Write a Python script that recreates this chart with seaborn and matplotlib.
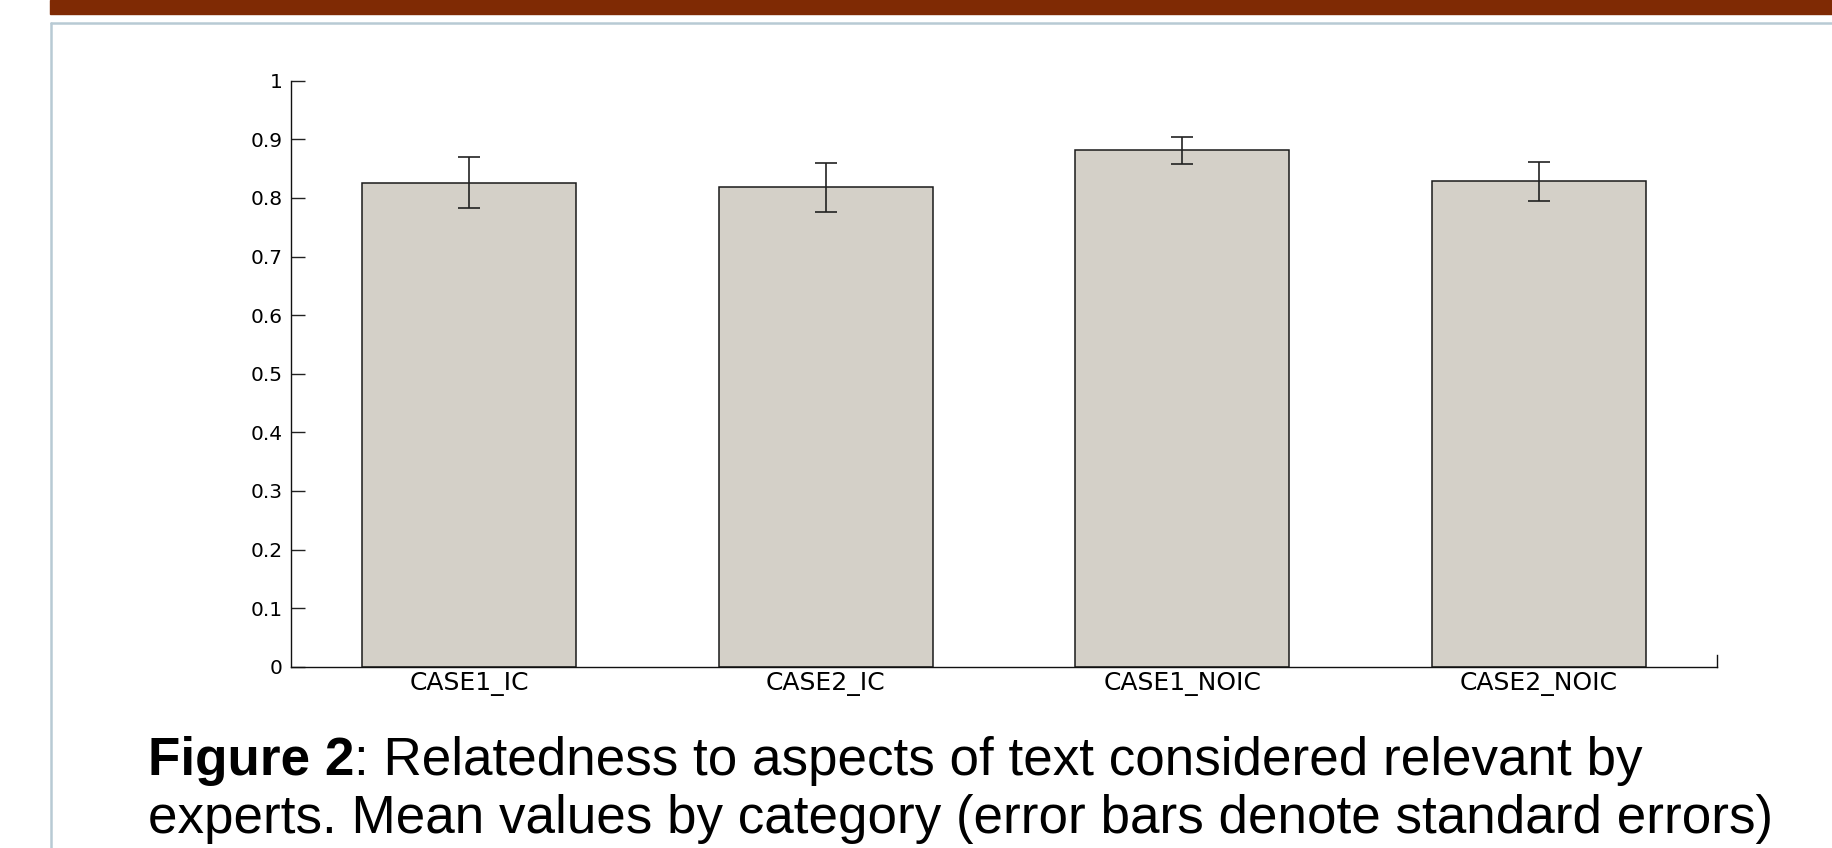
import numpy as np
import pandas as pd
import matplotlib
matplotlib.use('Agg')
import matplotlib.pyplot as plt
import seaborn as sns
from matplotlib.patches import Rectangle
from matplotlib.lines import Line2D

# values
categories = ['CASE1_IC', 'CASE2_IC', 'CASE1_NOIC', 'CASE2_NOIC']
mean_vals = [0.826, 0.818, 0.881, 0.828]
std_errs = [0.043, 0.042, 0.023, 0.033]
y_ticks = [0, 0.1, 0.2, 0.3, 0.4, 0.5, 0.6, 0.7, 0.8, 0.9, 1]
y_tick_labels = ['0', '0.1', '0.2', '0.3', '0.4', '0.5', '0.6', '0.7', '0.8', '0.9', '1']

df = pd.DataFrame({'category': categories, 'mean': mean_vals, 'se': std_errs})

sns.set_style('ticks')
plt.rcParams['font.family'] = ['DejaVu Sans']
plt.rcParams['text.color'] = 'black'
plt.rcParams['xtick.color'] = 'black'
plt.rcParams['ytick.color'] = 'black'

fig = plt.figure(figsize=(18.33, 8.48), dpi=100)
fig.patch.set_facecolor('white')

# slide decoration: brown strip and light frame
fig.patches.append(Rectangle((50 / 1833, 1 - 14 / 848), 1, 14 / 848,
                             transform=fig.transFigure, color='#7f2a04', zorder=0))
fig.lines.append(Line2D([51 / 1833, 1], [1 - 22.5 / 848, 1 - 22.5 / 848],
                        transform=fig.transFigure, color='#b8cad4', lw=1.8))
fig.lines.append(Line2D([51.5 / 1833, 51.5 / 1833], [0, 1 - 22.5 / 848],
                        transform=fig.transFigure, color='#b8cad4', lw=1.8))

ax = fig.add_axes([291 / 1833, 181.3 / 848, 1426 / 1833, 586 / 848])
sns.barplot(data=df, x='category', y='mean', color='#d4d0c8', saturation=1,
            width=0.6, edgecolor='#1a1a1a', linewidth=1.1, ax=ax)
ax.errorbar(x=np.arange(len(categories)), y=df['mean'], yerr=df['se'],
            fmt='none', ecolor='#222222', elinewidth=1.2, capsize=8.2, capthick=1.2)

ax.set_xlim(-0.5, 3.5)
ax.set_ylim(0, 1)
ax.set_yticks(y_ticks)
ax.set_yticklabels(y_tick_labels, fontsize=14.5)
ax.set_xlabel('')
ax.set_ylabel('')
ax.tick_params(axis='y', direction='in', length=10, width=1, color='#222222',
               pad=6, labelcolor='black')
ax.tick_params(axis='x', length=0, pad=4, labelsize=18, labelcolor='black')
ax.spines['top'].set_visible(False)
ax.spines['right'].set_bounds(0, 0.02)
for s in ['left', 'bottom', 'right']:
    ax.spines[s].set_linewidth(1)
    ax.spines[s].set_color('#111111')

# caption
cap_size = 38.2
t1 = fig.text(148 / 1833, 73 / 848, 'Figure 2', fontsize=cap_size, fontweight='bold',
              family=['Liberation Sans'], va='baseline', ha='left', color='black')
ax.annotate(': Relatedness to aspects of text considered relevant by',
            xy=(1, 0), xycoords=t1, va='bottom', ha='left', color='black',
            fontsize=cap_size, family=['Liberation Sans'], annotation_clip=False)
fig.text(148 / 1833, 15 / 848,
         'experts. Mean values by category (error bars denote standard errors)',
         fontsize=cap_size, family=['Liberation Sans'], va='baseline', ha='left',
         color='black')

fig.savefig('out.png', dpi=100)
